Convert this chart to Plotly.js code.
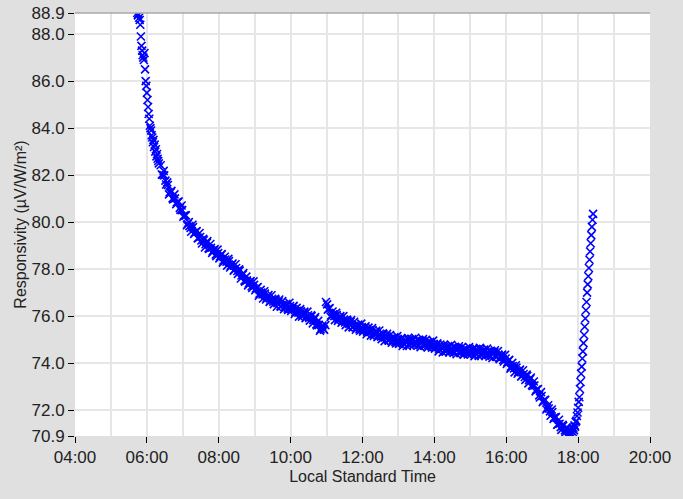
<!DOCTYPE html>
<html>
<head>
<meta charset="utf-8">
<script src="https://cdn.plot.ly/plotly-3.0.1.min.js"></script>
<style>
html,body{margin:0;padding:0;background:#e0e0e0;}
#chart{width:683px;height:499px;}
</style>
</head>
<body>
<div id="chart"></div>
<script>
// Morning segment, 1-minute readings
const timesMorning = [
 "05:44","05:45","05:46","05:47","05:48","05:49","05:50","05:51","05:52","05:53",
 "05:54","05:55","05:56","05:57","05:58","05:59","06:00","06:01","06:02","06:03",
 "06:04","06:05","06:06","06:07","06:08","06:09","06:10","06:11","06:12","06:13",
 "06:14","06:15","06:16","06:17","06:18","06:19","06:20"];
const valuesMorning = [
 88.9,88.8,88.85,88.7,88.6,88.4,87.9,87.5,87.3,87.1,
 87.0,86.9,87.2,86.5,86.0,85.8,85.5,85.2,84.9,84.6,
 84.4,84.1,84.0,83.9,83.7,83.6,83.4,83.5,83.2,83.3,
 83.0,83.1,82.8,82.9,82.7,82.6,82.5];

// Day segment A, readings every 3 minutes
const timesDayA = [
 "06:23","06:26","06:29","06:32","06:35","06:38","06:41","06:44","06:47","06:50",
 "06:53","06:56","06:59","07:02","07:05","07:08","07:11","07:14","07:17","07:20",
 "07:23","07:26","07:29","07:32","07:35","07:38","07:41","07:44","07:47","07:50",
 "07:53","07:56","07:59","08:02","08:05","08:08","08:11","08:14","08:17","08:20",
 "08:23","08:26","08:29","08:32","08:35","08:38","08:41","08:44","08:47","08:50",
 "08:53","08:56","08:59","09:02","09:05","09:08","09:11","09:14","09:17","09:20",
 "09:23","09:26","09:29","09:32","09:35","09:38","09:41","09:44","09:47","09:50",
 "09:53","09:56","09:59","10:02","10:05","10:08","10:11","10:14","10:17","10:20",
 "10:23","10:26","10:29","10:32","10:35","10:38","10:41","10:44","10:47","10:50",
 "10:53","10:56","10:59","11:02","11:05","11:08","11:11","11:14","11:17","11:20",
 "11:23","11:26","11:29","11:32","11:35","11:38","11:41","11:44","11:47","11:50",
 "11:53","11:56","11:59","12:02","12:05","12:08","12:11","12:14","12:17","12:20",
 "12:23","12:26","12:29","12:32","12:35","12:38","12:41","12:44","12:47","12:50",
 "12:53","12:56","12:59","13:02","13:05","13:08","13:11","13:14","13:17","13:20",
 "13:23","13:26","13:29","13:32","13:35","13:38","13:41","13:44","13:47","13:50",
 "13:53","13:56","13:59","14:02","14:05","14:08","14:11","14:14","14:17","14:20",
 "14:23","14:26","14:29","14:32","14:35","14:38","14:41","14:44","14:47","14:50",
 "14:53","14:56","14:59","15:02","15:05","15:08","15:11","15:14","15:17","15:20",
 "15:23","15:26","15:29","15:32","15:35","15:38","15:41","15:44","15:47","15:50",
 "15:53","15:56","15:59","16:02","16:05","16:08","16:11","16:14","16:17","16:20",
 "16:23","16:26","16:29","16:32","16:35","16:38","16:41","16:44","16:47","16:50",
 "16:53","16:56","16:59","17:02","17:05","17:08","17:11","17:14","17:17","17:20",
 "17:23","17:26","17:29","17:32","17:35","17:38","17:41","17:44"];
const valuesDayA = [
 82.42,82.01,81.99,81.60,81.58,81.27,81.33,80.97,81.01,80.84,
 80.88,80.52,80.51,80.28,80.29,79.92,79.83,79.59,79.79,79.56,
 79.62,79.33,79.37,79.09,79.23,79.06,79.19,78.86,78.91,78.76,
 78.85,78.55,78.68,78.54,78.64,78.36,78.41,78.15,78.34,78.14,
 78.24,77.97,78.05,77.80,77.93,77.73,77.83,77.47,77.52,77.39,
 77.49,77.20,77.33,77.17,77.24,76.95,77.00,76.75,76.96,76.78,
 76.90,76.65,76.74,76.51,76.70,76.55,76.71,76.40,76.49,76.39,
 76.52,76.26,76.43,76.31,76.44,76.17,76.23,75.98,76.21,76.06,
 76.19,75.95,76.04,75.81,76.00,75.83,75.96,75.61,75.63,75.44,
 75.60,75.42,76.60,76.28,76.34,76.04,76.08,75.83,76.05,75.88,
 76.00,75.76,75.85,75.62,75.81,75.67,75.83,75.52,75.61,75.51,
 75.64,75.38,75.54,75.43,75.57,75.32,75.40,75.17,75.40,75.24,
 75.38,75.14,75.24,75.02,75.23,75.09,75.25,74.96,75.05,74.96,
 75.10,74.84,75.01,74.91,75.06,74.83,74.94,74.73,74.99,74.86,
 75.02,74.81,74.94,74.74,74.96,74.84,75.02,74.74,74.85,74.77,
 74.91,74.66,74.82,74.71,74.84,74.59,74.68,74.46,74.71,74.58,
 74.73,74.51,74.64,74.44,74.66,74.54,74.72,74.43,74.54,74.46,
 74.61,74.37,74.55,74.47,74.63,74.40,74.51,74.31,74.57,74.43,
 74.58,74.36,74.48,74.28,74.50,74.38,74.55,74.26,74.36,74.26,
 74.36,74.07,74.20,74.05,74.14,73.85,73.88,73.61,73.81,73.62,
 73.73,73.46,73.54,73.29,73.46,73.28,73.39,73.03,73.05,72.86,
 72.90,72.54,72.60,72.40,72.44,72.09,72.07,71.76,71.92,71.68,
 71.71,71.39,71.42,71.16,71.33,71.14,71.27,70.97];

// Day segment B, readings every 3 minutes (in between A)
const timesDayB = [
 "06:25","06:28","06:31","06:34","06:37","06:40","06:43","06:46","06:49","06:52",
 "06:55","06:58","07:01","07:04","07:07","07:10","07:13","07:16","07:19","07:22",
 "07:25","07:28","07:31","07:34","07:37","07:40","07:43","07:46","07:49","07:52",
 "07:55","07:58","08:01","08:04","08:07","08:10","08:13","08:16","08:19","08:22",
 "08:25","08:28","08:31","08:34","08:37","08:40","08:43","08:46","08:49","08:52",
 "08:55","08:58","09:01","09:04","09:07","09:10","09:13","09:16","09:19","09:22",
 "09:25","09:28","09:31","09:34","09:37","09:40","09:43","09:46","09:49","09:52",
 "09:55","09:58","10:01","10:04","10:07","10:10","10:13","10:16","10:19","10:22",
 "10:25","10:28","10:31","10:34","10:37","10:40","10:43","10:46","10:49","10:52",
 "10:55","10:58","11:01","11:04","11:07","11:10","11:13","11:16","11:19","11:22",
 "11:25","11:28","11:31","11:34","11:37","11:40","11:43","11:46","11:49","11:52",
 "11:55","11:58","12:01","12:04","12:07","12:10","12:13","12:16","12:19","12:22",
 "12:25","12:28","12:31","12:34","12:37","12:40","12:43","12:46","12:49","12:52",
 "12:55","12:58","13:01","13:04","13:07","13:10","13:13","13:16","13:19","13:22",
 "13:25","13:28","13:31","13:34","13:37","13:40","13:43","13:46","13:49","13:52",
 "13:55","13:58","14:01","14:04","14:07","14:10","14:13","14:16","14:19","14:22",
 "14:25","14:28","14:31","14:34","14:37","14:40","14:43","14:46","14:49","14:52",
 "14:55","14:58","15:01","15:04","15:07","15:10","15:13","15:16","15:19","15:22",
 "15:25","15:28","15:31","15:34","15:37","15:40","15:43","15:46","15:49","15:52",
 "15:55","15:58","16:01","16:04","16:07","16:10","16:13","16:16","16:19","16:22",
 "16:25","16:28","16:31","16:34","16:37","16:40","16:43","16:46","16:49","16:52",
 "16:55","16:58","17:01","17:04","17:07","17:10","17:13","17:16","17:19","17:22",
 "17:25","17:28","17:31","17:34","17:37","17:40","17:43"];
const valuesDayB = [
 82.03,82.18,81.77,81.69,81.18,81.28,81.01,81.18,80.77,80.86,
 80.61,80.71,80.23,80.29,79.87,80.00,79.75,79.89,79.50,79.59,
 79.31,79.54,79.22,79.29,78.92,79.12,78.89,79.07,78.69,78.81,
 78.62,78.83,78.46,78.61,78.28,78.53,78.32,78.44,78.07,78.20,
 77.94,78.21,77.92,77.99,77.60,77.77,77.51,77.68,77.31,77.45,
 77.27,77.48,77.10,77.22,76.87,77.12,76.92,77.06,76.71,76.85,
 76.61,76.89,76.62,76.74,76.40,76.63,76.42,76.64,76.30,76.47,
 76.32,76.57,76.22,76.40,76.09,76.35,76.15,76.30,75.98,76.14,
 75.91,76.19,75.92,76.04,75.69,75.89,75.65,75.80,75.38,75.54,
 75.45,75.62,76.50,76.32,75.97,76.20,76.00,76.14,75.80,75.95,
 75.72,76.00,75.73,75.85,75.52,75.75,75.54,75.76,75.42,75.59,
 75.44,75.68,75.34,75.53,75.23,75.51,75.33,75.49,75.16,75.33,
 75.10,75.39,75.13,75.27,74.94,75.17,74.98,75.20,74.87,75.05,
 74.90,75.15,74.82,75.01,74.73,75.04,74.88,75.07,74.77,74.96,
 74.76,75.08,74.84,74.99,74.68,74.93,74.75,74.99,74.67,74.86,
 74.72,74.96,74.62,74.80,74.50,74.79,74.62,74.79,74.49,74.67,
 74.46,74.78,74.54,74.69,74.38,74.63,74.45,74.68,74.36,74.55,
 74.42,74.68,74.37,74.58,74.30,74.61,74.46,74.65,74.34,74.52,
 74.31,74.62,74.38,74.53,74.22,74.47,74.28,74.51,74.17,74.32,
 74.14,74.35,73.97,74.11,73.77,74.01,73.78,73.91,73.55,73.69,
 73.43,73.70,73.41,73.51,73.14,73.33,73.07,73.22,72.80,72.88,
 72.63,72.77,72.34,72.43,72.03,72.21,71.95,72.03,71.63,71.69,
 71.38,71.59,71.28,71.38,71.01,71.20,70.99];

// Evening segment, 1-minute readings
const timesEvening = [
 "17:45","17:46","17:47","17:48","17:49","17:50","17:51","17:52","17:53","17:54",
 "17:55","17:56","17:57","17:58","17:59","18:00","18:01","18:02","18:03","18:04",
 "18:05","18:06","18:07","18:08","18:09","18:10","18:11","18:12","18:13","18:14",
 "18:15","18:16","18:17","18:18","18:19","18:20","18:21","18:22","18:23","18:24",
 "18:25"];
const valuesEvening = [
 71.05,71.15,71.0,71.12,70.98,71.2,71.08,71.25,71.15,71.35,
 71.3,71.5,71.55,71.75,71.9,72.1,72.35,72.55,72.9,73.2,
 73.55,73.85,74.2,74.5,74.85,75.2,75.55,75.9,76.25,76.6,
 77.0,77.35,77.7,78.05,78.4,78.75,79.1,79.45,79.8,80.1,
 80.35];

const xTickTimes = ["04:00","06:00","08:00","10:00","12:00","14:00","16:00","18:00","20:00"];
const yTickValues = [70.9,72,74,76,78,80,82,84,86,88,88.9];

const DAY = "2024-01-01 ";
const allTimes = timesMorning.concat(timesDayA, timesDayB, timesEvening).map(t => DAY + t);
const allValues = valuesMorning.concat(valuesDayA, valuesDayB, valuesEvening);

const trace = {
  type: "scatter",
  mode: "markers",
  x: allTimes,
  y: allValues,
  marker: {symbol: "x-thin", size: 8, color: "#0000ff", line: {width: 1.6, color: "#0000ff"}},
  hoverinfo: "skip",
  cliponaxis: true
};

const layout = {
  width: 683, height: 499,
  paper_bgcolor: "#e0e0e0",
  plot_bgcolor: "#ffffff",
  margin: {l: 75, r: 33, t: 13, b: 63},
  showlegend: false,
  font: {family: "Liberation Sans, Arial, sans-serif", color: "#222222", size: 16},
  xaxis: {
    type: "date",
    range: [DAY + xTickTimes[0], DAY + xTickTimes[xTickTimes.length - 1]],
    tickvals: xTickTimes.map(t => DAY + t),
    ticktext: xTickTimes,
    ticks: "outside", ticklen: 6, tickwidth: 1, tickcolor: "#000000",
    showgrid: true, gridcolor: "#e6e6e6", gridwidth: 2,
    minor: {dtick: 3600000, showgrid: true, gridcolor: "#e6e6e6", gridwidth: 2, ticks: ""},
    showline: false, zeroline: false,
    tickfont: {size: 17, color: "#222222"},
    title: {text: "Local Standard Time", font: {size: 16, color: "#222222"}, standoff: 4}
  },
  yaxis: {
    range: [yTickValues[0], yTickValues[yTickValues.length - 1]],
    tickvals: yTickValues,
    ticktext: yTickValues.map(v => v.toFixed(1)),
    ticks: "outside", ticklen: 6, tickwidth: 1, tickcolor: "#000000",
    showgrid: true, gridcolor: "#e6e6e6", gridwidth: 2,
    showline: false, zeroline: false,
    tickfont: {size: 17, color: "#222222"},
    title: {text: "Responsivity (µV/W/m²)", font: {size: 16, color: "#222222"}, standoff: 0}
  },
  shapes: [{type: "line", xref: "paper", yref: "paper", x0: 0, x1: 1, y0: 1, y1: 1,
            line: {color: "#a8a8a8", width: 1.5}}]
};

Plotly.newPlot("chart", [trace], layout, {displayModeBar: false, staticPlot: true});
</script>
</body>
</html>
